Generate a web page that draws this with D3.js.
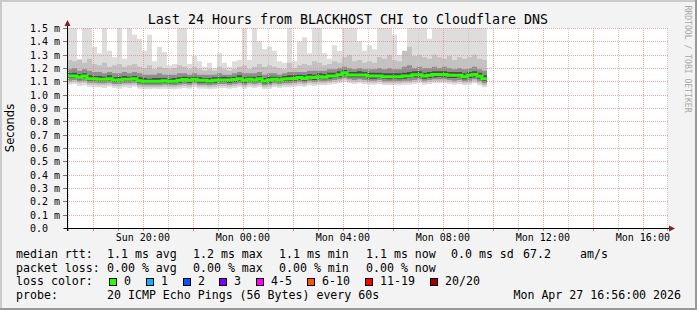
<!DOCTYPE html>
<html>
<head>
<meta charset="utf-8">
<script src="https://cdn.jsdelivr.net/npm/d3@7"></script>
<style>
  body { margin: 0; background: #f3f3f3; }
  text { font-family: "DejaVu Sans Mono", monospace; fill: #000; }
</style>
</head>
<body>
<script>
const WIDTH = 697;
const HEIGHT = 310;

// median rtt per 12 min column (ms)
const median = [1.14,1.14,1.13,1.14,1.12,1.12,1.115,1.115,1.12,1.11,
  1.11,1.115,1.115,1.12,1.105,1.10,1.10,1.10,1.10,1.105,
  1.10,1.10,1.108,1.113,1.108,1.115,1.108,1.108,1.102,1.108,
  1.11,1.11,1.11,1.113,1.12,1.108,1.115,1.11,1.12,1.102,
  1.11,1.115,1.11,1.118,1.12,1.122,1.128,1.122,1.13,1.128,
  1.135,1.13,1.14,1.14,1.15,1.165,1.148,1.148,1.148,1.148,
  1.14,1.14,1.14,1.135,1.135,1.135,1.135,1.14,1.14,1.15,
  1.15,1.14,1.145,1.152,1.152,1.152,1.145,1.145,1.145,1.135,
  1.145,1.152,1.138,1.12];

// smoke: sorted ping ranks (of 20) per column
const pMax = [1.6,1.6,1.27,1.6,1.6,1.36,1.31,1.6,1.33,1.28,
  1.6,1.27,1.6,1.45,1.42,1.33,1.45,1.25,1.36,1.32,
  1.22,1.23,1.6,1.6,1.23,1.29,1.25,1.21,1.24,1.2,
  1.31,1.24,1.21,1.25,1.26,1.6,1.26,1.6,1.4,1.34,
  1.36,1.33,1.25,1.24,1.6,1.25,1.4,1.43,1.31,1.6,
  1.6,1.31,1.27,1.37,1.33,1.6,1.6,1.6,1.40,1.33,
  1.37,1.34,1.6,1.6,1.6,1.45,1.3,1.3,1.6,1.6,
  1.6,1.6,1.42,1.6,1.6,1.6,1.6,1.6,1.6,1.6,
  1.6,1.6,1.6,1.6];
const p19 = [1.26,1.25,1.26,1.24,1.27,1.23,1.22,1.24,1.21,1.22,
  1.23,1.21,1.22,1.23,1.21,1.20,1.22,1.19,1.21,1.20,
  1.19,1.20,1.22,1.21,1.19,1.21,1.19,1.18,1.19,1.18,
  1.21,1.19,1.18,1.19,1.21,1.22,1.19,1.21,1.23,1.21,
  1.22,1.21,1.20,1.19,1.24,1.20,1.22,1.23,1.22,1.25,
  1.24,1.22,1.23,1.25,1.24,1.28,1.30,1.25,1.26,1.24,
  1.25,1.24,1.28,1.27,1.30,1.26,1.25,1.33,1.36,1.29,
  1.30,1.28,1.27,1.30,1.28,1.27,1.29,1.26,1.28,1.27,
  1.28,1.30,1.27,1.26];
const p16 = [1.19,1.20,1.18,1.19,1.18,1.17,1.17,1.16,1.17,1.16,
  1.16,1.17,1.16,1.17,1.16,1.15,1.15,1.15,1.16,1.15,
  1.15,1.15,1.16,1.16,1.15,1.16,1.15,1.15,1.15,1.15,
  1.16,1.15,1.15,1.16,1.17,1.16,1.16,1.16,1.17,1.15,
  1.16,1.16,1.15,1.16,1.17,1.17,1.17,1.17,1.18,1.18,
  1.18,1.18,1.19,1.19,1.20,1.21,1.20,1.19,1.20,1.19,
  1.19,1.19,1.20,1.19,1.20,1.19,1.19,1.21,1.22,1.20,
  1.21,1.20,1.20,1.21,1.20,1.21,1.20,1.19,1.20,1.19,
  1.20,1.21,1.19,1.18];
const p13 = [1.16,1.165,1.155,1.16,1.145,1.14,1.14,1.135,1.145,1.13,
  1.135,1.14,1.135,1.14,1.13,1.125,1.12,1.125,1.125,1.125,
  1.12,1.125,1.13,1.135,1.13,1.135,1.13,1.125,1.125,1.13,
  1.13,1.135,1.13,1.135,1.145,1.13,1.135,1.135,1.14,1.125,
  1.135,1.135,1.13,1.14,1.145,1.145,1.15,1.145,1.155,1.15,
  1.16,1.155,1.165,1.165,1.175,1.185,1.17,1.17,1.175,1.17,
  1.165,1.165,1.165,1.16,1.16,1.16,1.16,1.165,1.17,1.175,
  1.175,1.165,1.17,1.175,1.175,1.175,1.17,1.17,1.17,1.16,
  1.17,1.175,1.165,1.145];
const p8 = [1.125,1.125,1.115,1.125,1.105,1.105,1.10,1.10,1.105,1.095,
  1.095,1.10,1.10,1.105,1.09,1.085,1.085,1.085,1.085,1.09,
  1.085,1.085,1.09,1.10,1.09,1.10,1.09,1.09,1.085,1.09,
  1.095,1.095,1.09,1.095,1.10,1.09,1.10,1.095,1.10,1.085,
  1.09,1.10,1.095,1.10,1.10,1.105,1.11,1.105,1.115,1.11,
  1.12,1.115,1.12,1.125,1.13,1.145,1.13,1.13,1.13,1.13,
  1.12,1.12,1.125,1.12,1.115,1.12,1.115,1.12,1.125,1.13,
  1.13,1.12,1.125,1.13,1.135,1.13,1.125,1.125,1.13,1.115,
  1.125,1.13,1.12,1.10];
const p5 = [1.105,1.11,1.10,1.105,1.09,1.09,1.085,1.085,1.09,1.08,
  1.08,1.085,1.085,1.09,1.075,1.07,1.07,1.07,1.07,1.075,
  1.07,1.07,1.075,1.08,1.075,1.085,1.075,1.075,1.07,1.075,
  1.08,1.08,1.075,1.08,1.085,1.075,1.085,1.08,1.085,1.07,
  1.075,1.085,1.08,1.085,1.085,1.09,1.095,1.09,1.10,1.095,
  1.10,1.10,1.105,1.11,1.115,1.125,1.115,1.11,1.115,1.11,
  1.105,1.105,1.11,1.10,1.10,1.10,1.10,1.105,1.105,1.11,
  1.115,1.105,1.11,1.115,1.115,1.115,1.11,1.105,1.11,1.10,
  1.105,1.115,1.10,1.085];
const p2 = [1.09,1.095,1.085,1.09,1.075,1.075,1.07,1.07,1.075,1.065,
  1.065,1.07,1.07,1.075,1.06,1.055,1.055,1.055,1.055,1.06,
  1.055,1.055,1.06,1.065,1.06,1.07,1.06,1.06,1.055,1.06,
  1.065,1.065,1.06,1.065,1.07,1.06,1.07,1.065,1.07,1.055,
  1.06,1.07,1.065,1.07,1.07,1.075,1.08,1.075,1.085,1.08,
  1.085,1.085,1.09,1.095,1.10,1.11,1.10,1.095,1.10,1.095,
  1.09,1.09,1.095,1.085,1.085,1.085,1.085,1.09,1.09,1.095,
  1.10,1.09,1.095,1.10,1.10,1.10,1.095,1.09,1.095,1.085,
  1.09,1.10,1.085,1.07];
const pMin = [1.075,1.08,1.065,1.07,1.06,1.055,1.055,1.05,1.06,1.05,
  1.045,1.055,1.05,1.06,1.045,1.04,1.04,1.045,1.04,1.045,
  1.04,1.04,1.045,1.05,1.045,1.055,1.045,1.045,1.04,1.045,
  1.05,1.05,1.045,1.05,1.055,1.045,1.055,1.05,1.055,1.04,
  1.045,1.055,1.05,1.055,1.055,1.06,1.065,1.06,1.07,1.065,
  1.07,1.07,1.075,1.08,1.085,1.095,1.085,1.08,1.085,1.08,
  1.075,1.075,1.08,1.07,1.07,1.07,1.07,1.075,1.075,1.08,
  1.085,1.075,1.08,1.085,1.085,1.085,1.08,1.075,1.08,1.07,
  1.075,1.085,1.07,1.055];

const yTicks = [0,0.1,0.2,0.3,0.4,0.5,0.6,0.7,0.8,0.9,1.0,1.1,1.2,1.3,1.4,1.5];
const lossLabels = ["0","1","2","3","4-5","6-10","11-19","20/20"];
const lossColors = ["#26ff00","#00b8ff","#0059ff","#7e00ff","#ff00ff","#ff5500","#ff0000","#a10000"];
const lossBoxX = [109,146,183,219,256,307,365,430];
const statsRtt = ["1.1 ms avg","1.2 ms max","1.1 ms min","1.1 ms now","0.0 ms sd"];
const statsLoss = ["0.00 % avg","0.00 % max","0.00 % min","0.00 % now"];
const statsX = [107,193,279,366,451];

const START = new Date(2026, 3, 26, 16, 58);
const END = new Date(2026, 3, 27, 16, 58);
const STEP = 12 * 60 * 1000;

const svg = d3.select("body").append("svg")
  .attr("width", WIDTH).attr("height", HEIGHT);

// frame
svg.append("rect").attr("width", WIDTH).attr("height", HEIGHT).attr("fill", "#f3f3f3");
svg.append("path").attr("d", `M0,0H${WIDTH}V2H2V${HEIGHT}H0Z`).attr("fill", "#cbcbcb");
svg.append("path").attr("d", `M${WIDTH},${HEIGHT}H0V${HEIGHT-2}H${WIDTH-2}V0H${WIDTH}Z`).attr("fill", "#999");

const x = d3.scaleTime().domain([START, END]).range([67, 667]);
const y = d3.scaleLinear().domain([0, 1.5]).range([228, 28]);

svg.append("rect").attr("x", 67).attr("y", 28).attr("width", 600).attr("height", 200).attr("fill", "#fff");

svg.append("clipPath").attr("id", "clip")
  .append("rect").attr("x", 67).attr("y", 28).attr("width", 600).attr("height", 200);

// smoke
const cols = median.map((m, i) => i).concat([median.length]);
const t = i => new Date(START.getTime() + i * STEP);
const at = (arr, i) => arr[Math.min(i, arr.length - 1)];

const bands = [
  [pMin, pMax, "#dddddd"],
  [p2, p19, "#c2c2c2"],
  [p5, p16, "#8e8e8e"],
  [p8, p13, "#4c4c4c"]
];

const smoke = svg.append("g").attr("clip-path", "url(#clip)");
bands.forEach(([lo, hi, c]) => {
  const area = d3.area()
    .x(i => x(t(i)))
    .y0(i => y(at(lo, i)))
    .y1(i => y(at(hi, i)))
    .curve(d3.curveStepAfter);
  smoke.append("path").datum(cols).attr("d", area).attr("fill", c);
});

// grid
const grid = svg.append("g");
d3.timeHour.every(1).range(START, END).concat([END]).forEach(d => {
  const major = d.getHours() % 2 === 0 && d < END;
  const xx = Math.round(x(d)) + 0.5;
  grid.append("line")
    .attr("x1", xx).attr("x2", xx).attr("y1", 28).attr("y2", 228)
    .attr("stroke", major ? "#f08a8a" : "#c8c8c8")
    .attr("stroke-opacity", major ? 0.8 : 0.9)
    .attr("stroke-dasharray", "1,1");
  grid.append("line")
    .attr("x1", xx).attr("x2", xx).attr("y1", 228).attr("y2", 231)
    .attr("stroke", major ? "#f08a8a" : "#aaa");
});
yTicks.slice(1).forEach(v => {
  const yy = Math.round(y(v)) + 0.5;
  grid.append("line")
    .attr("x1", 67).attr("x2", 669).attr("y1", yy).attr("y2", yy)
    .attr("stroke", "#f08a8a").attr("stroke-opacity", 0.8)
    .attr("stroke-dasharray", "1,1");
});
yTicks.forEach(v => {
  const yy = Math.round(y(v)) + 0.5;
  grid.append("line")
    .attr("x1", 63).attr("x2", 67).attr("y1", yy).attr("y2", yy)
    .attr("stroke", "#777");
  svg.append("text")
    .attr("x", 30).attr("y", yy + 3.5)
    .attr("font-size", "10px")
    .text(v === 0 ? "0.0" : d3.format(".1f")(v) + " m");
});

// median line
const medLine = d3.line()
  .x(i => x(t(i)))
  .y(i => y(at(median, i)))
  .curve(d3.curveStepAfter);
svg.append("path").datum(cols).attr("d", medLine)
  .attr("fill", "none").attr("stroke", lossColors[0]).attr("stroke-width", 3);

// axes
svg.append("line").attr("x1", 67.5).attr("x2", 67.5).attr("y1", 231).attr("y2", 24).attr("stroke", "#000");
svg.append("line").attr("x1", 64).attr("x2", 670).attr("y1", 228.5).attr("y2", 228.5).attr("stroke", "#000");
svg.append("path").attr("d", "M64.5,26L67.5,20L70.5,26Z").attr("fill", "#8b1a1a");
svg.append("path").attr("d", "M669,225.5L675,228.5L669,231.5Z").attr("fill", "#8b1a1a");

// x labels
d3.timeHour.every(4).range(START, END).forEach(d => {
  svg.append("text")
    .attr("x", x(d)).attr("y", 241)
    .attr("text-anchor", "middle").attr("font-size", "10px")
    .text(d3.timeFormat("%a %H:%M")(d));
});

// titles
svg.append("text").attr("x", 348).attr("y", 24).attr("text-anchor", "middle")
  .attr("font-size", "13.3px").text("Last 24 Hours from BLACKHOST CHI to Cloudflare DNS");
svg.append("text").attr("transform", "translate(14,128) rotate(-90)")
  .attr("text-anchor", "middle").attr("font-size", "11.5px")
  .style("font-family", "'DejaVu Sans', sans-serif")
  .text("Seconds");
svg.append("text").attr("transform", "translate(685,59) rotate(90)")
  .attr("text-anchor", "middle").attr("font-size", "8.1px")
  .style("fill", "#a8a8a8")
  .text("RRDTOOL / TOBI OETIKER");

// legend
const FS = "11.6px";
const row = (txt, xx, yy) => svg.append("text").attr("x", xx).attr("y", yy)
  .attr("font-size", FS).style("white-space", "pre").text(txt);

row("median rtt:", 16, 258);
statsRtt.forEach((s, i) => row(s, statsX[i], 258));
row("67.2", 523, 258);
row("am/s", 580, 258);

row("packet loss:", 16, 271.5);
statsLoss.forEach((s, i) => row(s, statsX[i], 271.5));

row("loss color:", 16, 285);
lossLabels.forEach((l, i) => {
  svg.append("rect").attr("x", lossBoxX[i] + 0.5).attr("y", 278.5)
    .attr("width", 7).attr("height", 7)
    .attr("fill", lossColors[i]).attr("stroke", "#000");
  row(l, lossBoxX[i] + 15, 285);
});

row("probe:", 16, 299);
row("20 ICMP Echo Pings (56 Bytes) every 60s", 107, 299);
svg.append("text").attr("x", 681).attr("y", 299).attr("text-anchor", "end")
  .attr("font-size", FS).text("Mon Apr 27 16:56:00 2026");
</script>
</body>
</html>
